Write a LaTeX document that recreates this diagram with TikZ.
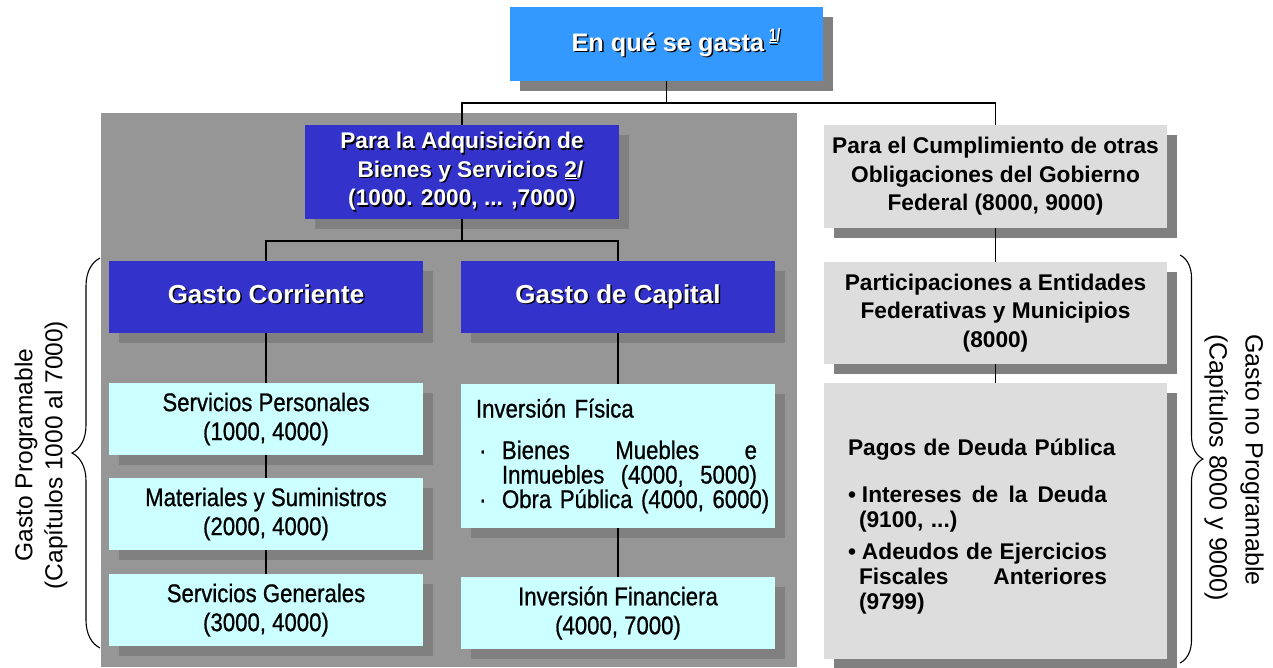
\documentclass[tikz,border=0pt]{standalone}
\usepackage{fontspec}
\usepackage{graphicx}
\setmainfont{Liberation Sans}
\newfontfamily\narrowfont[FakeStretch=0.87,FakeBold=0.8]{Liberation Sans}
\usetikzlibrary{shadows,decorations.pathreplacing,calc}
\definecolor{topblue}{HTML}{3399FF}
\definecolor{boxblue}{HTML}{3333CC}
\definecolor{boxcyan}{HTML}{CCFFFF}
\definecolor{boxgray}{HTML}{DDDDDD}
\definecolor{panelgray}{HTML}{969696}
\definecolor{shadowc}{HTML}{808080}
\newcommand\shtxt[1]{\leavevmode\rlap{\kern1.5pt\raisebox{-1.5pt}{\textcolor{black}{#1}}}#1}
\begin{document}
\begin{tikzpicture}[x=1pt,y=-1pt,
  box/.style={inner sep=0pt, align=center,
    drop shadow={shadow xshift=10pt,shadow yshift=-10pt,fill=shadowc,opacity=1}},
  topbox/.style={box, fill=topblue, text=white, font=\fontsize{25.3}{30}\selectfont\bfseries},
  bluebox/.style={box, fill=boxblue, text=white, font=\fontsize{22.7}{28.5}\selectfont\bfseries},
  bigblue/.style={box, fill=boxblue, text=white, font=\fontsize{26}{30}\selectfont\bfseries,
    text height=19pt, text depth=7pt},
  cyanbox/.style={box, fill=boxcyan, text=black, font=\narrowfont\fontsize{25.5}{29}\selectfont},
  graybox/.style={box, fill=boxgray, text=black, font=\fontsize{22.7}{28.5}\selectfont\bfseries},
  conn/.style={draw=black, line width=1.3pt},
  bracestyle/.style={draw=black, line width=1.1pt, decorate},
  sidetext/.style={inner sep=0pt, text=black}
]
\useasboundingbox (0,0) rectangle (1273,667);
\fill[white] (0,0) rectangle (1273,667);
% panel
\fill[panelgray] (101,113) rectangle (797,667);

% boxes
\node[topbox, minimum width=313pt, minimum height=74pt, text height=20pt, text depth=6pt] (top) at (666.5,44)
  {\hspace*{19pt}\shtxt{En qué se gasta}\hspace{5pt}\raisebox{10pt}{\scalebox{0.75}[1]{\fontsize{18}{18}\selectfont\shtxt{\underline{1}/}}}};

\node[bluebox, minimum width=314pt, minimum height=94pt] (adq) at (462,172)
  {\shtxt{Para la Adquisición de}\\ \hspace*{17pt}\shtxt{Bienes y Servicios \underline{2}/}\\ \shtxt{(1000. 2000, ... ,7000)}};

\node[bigblue, minimum width=314pt, minimum height=72pt] (gc) at (266,297) {\shtxt{Gasto Corriente}};
\node[bigblue, minimum width=314pt, minimum height=72pt] (gk) at (618,297) {\shtxt{Gasto de Capital}};

\node[cyanbox, minimum width=314pt, minimum height=72pt] (sp) at (266,419) {Servicios Personales\\(1000, 4000)};
\node[cyanbox, minimum width=314pt, minimum height=72pt] (ms) at (266,514) {Materiales y Suministros\\(2000, 4000)};
\node[cyanbox, minimum width=314pt, minimum height=72pt] (sg) at (266,610) {Servicios Generales\\(3000, 4000)};

\node[cyanbox, minimum width=314pt, minimum height=144pt, text width=288pt, align=left,
      font=\narrowfont\fontsize{25.5}{24.5}\selectfont] (if) at (618,456)
  {\hspace*{2pt}Inversión Física\\[17pt]
   \makebox[28pt][l]{\hspace{5pt}·}\hbox to 255pt{Bienes\hfill Muebles\hfill e}\\
   \hspace*{28pt}\hbox to 255pt{Inmuebles\hfill (4000,\hfill 5000)}\\
   \makebox[28pt][l]{\hspace{5pt}·}\mbox{Obra Pública (4000, 6000)}};
\node[cyanbox, minimum width=314pt, minimum height=72pt] (ifin) at (618,613) {Inversión Financiera\\(4000, 7000)};

\node[graybox, minimum width=343pt, minimum height=103pt] (cump) at (995.5,176.5)
  {Para el Cumplimiento de otras\\Obligaciones del Gobierno\\Federal (8000, 9000)};
\node[graybox, minimum width=343pt, minimum height=102pt] (part) at (995.5,313)
  {Participaciones a Entidades\\Federativas y Municipios\\(8000)};
\node[graybox, minimum width=343pt, minimum height=276pt, text width=295pt, align=left,
      font=\fontsize{22.7}{25}\selectfont\bfseries] (pagos) at (995.5,521)
  {\rule{0pt}{27pt}Pagos de Deuda Pública\\[22pt]
   \makebox[14pt][l]{•}\hbox to 245pt{Intereses\hfill de\hfill la\hfill Deuda}\\
   \hspace*{11pt}(9100, ...)\\[7pt]
   \makebox[14pt][l]{•}\hbox to 245pt{Adeudos\hfill de\hfill Ejercicios}\\
   \hspace*{11pt}\hbox to 248pt{Fiscales\hfill Anteriores}\\
   \hspace*{11pt}(9799)};

% connectors
\coordinate (b1) at (666.5,103);
\coordinate (b2) at (462,241);
\draw[conn] (top.south) -- (b1);
\draw[conn] (b1) -| (adq.north);
\draw[conn] (b1) -| (cump.north);
\draw[conn] (adq.south) -- (b2);
\draw[conn] (b2) -| (gc.north);
\draw[conn] (b2) -| (gk.north);
\draw[conn] (gc.south) -- (sp.north);
\draw[conn] (sp.south) -- (ms.north);
\draw[conn] (ms.south) -- (sg.north);
\draw[conn] (gk.south) -- (if.north);
\draw[conn] (if.south) -- (ifin.north);
\draw[conn] (cump.south) -- (part.north);
\draw[conn] (part.south) -- (pagos.north);

% braces
\coordinate (lb1) at (100,648);
\coordinate (lb2) at (100,258);
\draw[bracestyle, decoration={brace, amplitude=28pt}] (lb1) -- (lb2);
\coordinate (rb1) at (1180,255);
\coordinate (rb2) at (1180,663);
\draw[bracestyle, decoration={brace, amplitude=23pt}] (rb1) -- (rb2);

% side labels
\node[sidetext, rotate=90, align=center, font=\fontsize{24.5}{30}\selectfont] (lt) at (41,455)
  {Gasto Programable\\(Capítulos 1000 al 7000)};
\node[sidetext, rotate=-90, anchor=west, align=left, font=\fontsize{25}{36}\selectfont] (rt) at (1234,334)
  {Gasto no Programable\\(Capítulos 8000 y 9000)};
\end{tikzpicture}
\end{document}
